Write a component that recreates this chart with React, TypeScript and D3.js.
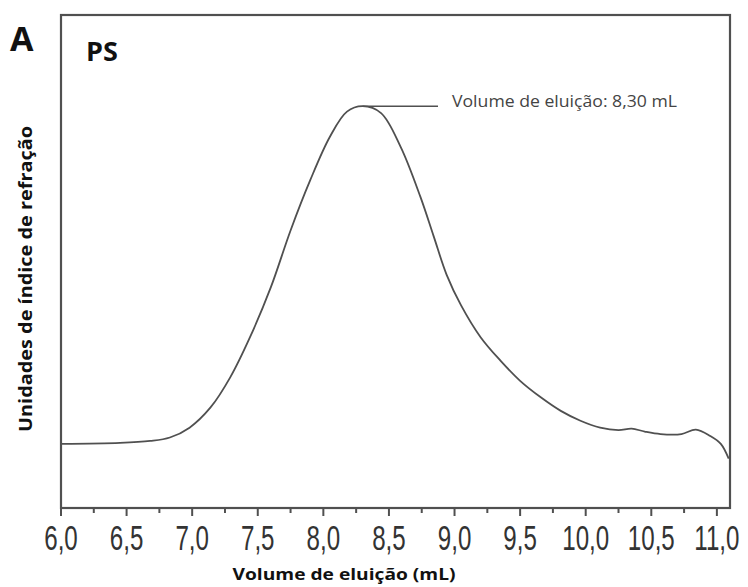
import React from "react";
import * as d3 from "d3";

// Elution volume (mL) and refractive-index response (arbitrary units)
const volume = [6.0, 6.45, 6.68, 6.83, 6.98, 7.14, 7.29, 7.44, 7.6, 7.75, 7.9, 8.05, 8.18, 8.3, 8.44, 8.59, 8.74, 8.84, 8.94, 9.05, 9.2, 9.35, 9.5, 9.66, 9.81, 9.96, 10.11, 10.25, 10.35, 10.45, 10.57, 10.73, 10.84, 10.95, 11.03, 11.09];
const response = [13.0, 13.2, 13.6, 14.3, 16.3, 20.4, 26.5, 34.6, 44.8, 56.3, 66.5, 75.3, 80.4, 81.5, 80.1, 73.2, 63.1, 55.2, 47.3, 41.1, 34.6, 29.9, 25.8, 22.4, 19.7, 17.7, 16.3, 15.8, 16.1, 15.5, 15.0, 15.0, 15.9, 14.6, 13.0, 10.0];

const majorTicks = [6.0, 6.5, 7.0, 7.5, 8.0, 8.5, 9.0, 9.5, 10.0, 10.5, 11.0];
const minorTicks = [6.25, 6.75, 7.25, 7.75, 8.25, 8.75, 9.25, 9.75, 10.25, 10.75];
const peakVolume = 8.3;

const panelLabel = "A";
const sampleLabel = "PS";
const xTitle = "Volume de eluição (mL)";
const yTitle = "Unidades de índice de refração";
const peakText = "Volume de eluição: 8,30 mL";

export default function App() {
  const W = 748, H = 587;
  const left = 61, right = 730, top = 15, bottom = 508;
  const x = d3.scaleLinear().domain([6, 11.1]).range([left, right]);
  const y = d3.scaleLinear().domain([0, 100]).range([bottom, top]);
  const pts = volume.map((v, i) => [v, response[i]] as [number, number]);
  const line = d3.line<[number, number]>().x(d => x(d[0])).y(d => y(d[1])).curve(d3.curveCatmullRom.alpha(0.5));
  const peakIdx = volume.indexOf(peakVolume);
  const peakY = y(response[peakIdx]);
  const stroke = "#505050";
  const fmt = (v: number) => v.toFixed(1).replace(".", ",");
  const sans = "'Open Sans', 'Noto Sans', sans-serif";

  return (
    <svg width={W} height={H} style={{ position: "absolute", left: 0, top: 0, background: "#fff" }}>
      <rect x={left} y={top} width={right - left} height={bottom - top} fill="none" stroke={stroke} strokeWidth={2.2} />
      {majorTicks.map(t => (
        <line key={"M" + t} x1={x(t)} x2={x(t)} y1={bottom} y2={bottom + 8} stroke={stroke} strokeWidth={2} />
      ))}
      {minorTicks.map(t => (
        <line key={"m" + t} x1={x(t)} x2={x(t)} y1={bottom} y2={bottom + 5} stroke={stroke} strokeWidth={2} />
      ))}
      {majorTicks.map(t => (
        <text key={"l" + t} transform={`translate(${x(t)}, 550) scale(0.69, 1)`} textAnchor="middle"
          fontFamily="'Liberation Sans', Arial, sans-serif" fontSize={35} fill="#333">{fmt(t)}</text>
      ))}
      <path d={line(pts) || ""} fill="none" stroke={stroke} strokeWidth={1.8} />
      <line x1={x(peakVolume)} x2={438} y1={peakY} y2={peakY} stroke={stroke} strokeWidth={1.5} />
      <text x={452} y={107} fontFamily={sans} fontSize={16} fill="#444" textLength={225} lengthAdjust="spacingAndGlyphs">{peakText}</text>
      <text x={10} y={51} fontFamily={sans} fontWeight="bold" fontSize={34} fill="#111">{panelLabel}</text>
      <text x={86} y={61} fontFamily={sans} fontWeight="bold" fontSize={27} fill="#111">{sampleLabel}</text>
      <text x={344} y={580} textAnchor="middle" fontFamily={sans} fontWeight="bold" fontSize={16.5} fill="#111"
        textLength={223} lengthAdjust="spacingAndGlyphs">{xTitle}</text>
      <text transform={`translate(32, 279) rotate(-90)`} textAnchor="middle" fontFamily={sans} fontWeight="bold" fontSize={17} fill="#111"
        textLength={306} lengthAdjust="spacingAndGlyphs">{yTitle}</text>
    </svg>
  );
}
